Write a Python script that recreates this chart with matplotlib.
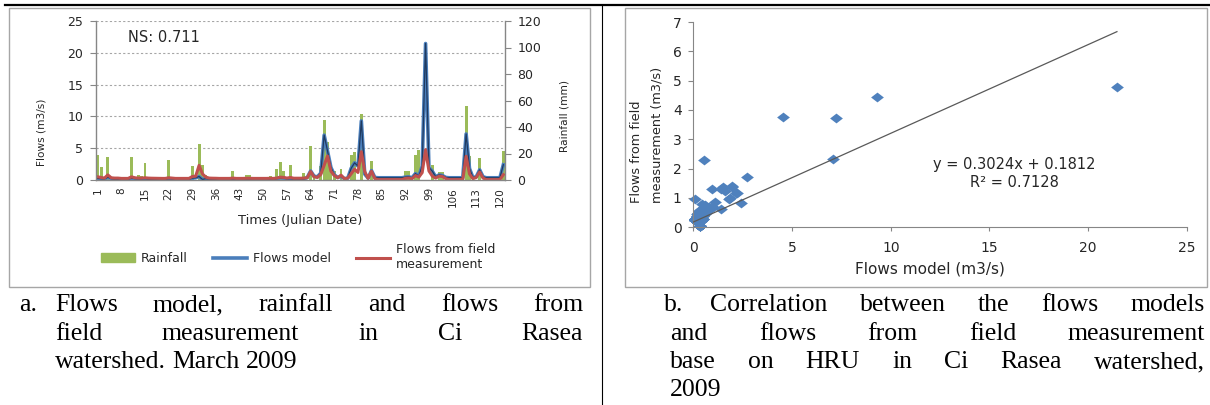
import matplotlib
matplotlib.use("Agg")
import matplotlib.pyplot as plt
from matplotlib.lines import Line2D
from matplotlib.patches import Patch, Rectangle
import numpy as np

# ---- data ----
days = list(range(1, 122))

rainfall = [
    19, 10, 0, 17, 0, 0, 2.5, 0, 0, 0,            # 1-10
    17, 0, 3.5, 3, 12.5, 0, 0, 0, 0, 0,           # 11-20
    0, 15, 2.5, 0, 0, 0, 0, 0, 10.5, 0,           # 21-30
    27, 11.5, 3.5, 0, 0, 1.5, 0, 2, 2.5, 0,       # 31-40
    7, 0, 0, 0, 3.5, 3.5, 0, 1.5, 1.5, 0,         # 41-50
    2.5, 3, 0, 8, 13.5, 7, 0, 11.5, 0, 1.5,       # 51-60
    1.5, 5, 0, 25.5, 4.5, 0, 10.5, 45, 29, 10,    # 61-70
    7, 0, 8.5, 0, 0, 18.5, 21, 0, 50, 0,          # 71-80
    0, 14, 0, 0, 0, 0, 0, 0, 0, 0,                # 81-90
    0, 7, 7, 0, 18.5, 22.5, 0, 0, 0, 11.5,        # 91-100
    0, 6, 6, 0, 0, 0, 0, 0, 0, 56,                # 101-110
    18, 0, 0, 16.5, 0, 0, 0, 0, 0, 0,             # 111-120
    22,                                           # 121
]

flows_model = [
    0.25, 0.2, 0.15, 0.45, 0.2, 0.12, 0.12, 0.12, 0.1, 0.1,
    0.3, 0.2, 0.15, 0.15, 0.2, 0.12, 0.1, 0.1, 0.1, 0.1,
    0.1, 0.2, 0.15, 0.1, 0.1, 0.1, 0.1, 0.1, 0.3, 0.35,
    0.55, 0.08, 0.2, 0.12, 0.1, 0.1, 0.1, 0.1, 0.1, 0.1,
    0.15, 0.1, 0.1, 0.1, 0.12, 0.12, 0.1, 0.1, 0.1, 0.1,
    0.1, 0.12, 0.1, 0.2, 0.35, 0.3, 0.15, 0.2, 0.12, 0.12,
    0.12, 0.15, 0.4, 1.42, 0.6, 0.5, 1.09, 7.06, 4.54, 1.97,
    0.8, 0.4, 0.59, 0.2, 0.3, 1.85, 2.7, 2.19, 9.29, 0.93,
    0.3, 1.48, 0.4, 0.35, 0.35, 0.35, 0.35, 0.35, 0.35, 0.35,
    0.35, 0.45, 0.5, 0.35, 1.0, 0.6, 2.17, 21.46, 1.94, 1.38,
    0.5, 0.8, 0.7, 0.4, 0.35, 0.35, 0.35, 0.35, 0.35, 7.24,
    1.8, 0.4, 0.5, 1.6, 0.5, 0.35, 0.35, 0.35, 0.35, 0.35,
    2.4,
]

flows_field = [
    0.5, 0.4, 0.3, 0.8, 0.35, 0.3, 0.3, 0.25, 0.25, 0.25,
    0.5, 0.35, 0.3, 0.3, 0.35, 0.3, 0.28, 0.27, 0.26, 0.25,
    0.25, 0.35, 0.3, 0.25, 0.25, 0.25, 0.25, 0.25, 0.55, 0.6,
    2.3, 0.95, 0.45, 0.3, 0.28, 0.27, 0.25, 0.25, 0.25, 0.25,
    0.3, 0.25, 0.25, 0.25, 0.27, 0.27, 0.25, 0.25, 0.25, 0.25,
    0.25, 0.27, 0.25, 0.3, 0.45, 0.4, 0.3, 0.4, 0.28, 0.28,
    0.28, 0.3, 0.35, 1.32, 0.5, 0.4, 0.87, 2.32, 3.77, 1.39,
    0.7, 0.35, 0.76, 0.2, 0.3, 0.99, 1.7, 1.18, 4.45, 1.32,
    0.25, 1.38, 0.2, 0.06, 0.06, 0.06, 0.06, 0.06, 0.06, 0.06,
    0.06, 0.25, 0.3, 0.2, 0.7, 0.45, 1.16, 4.77, 1.42, 0.61,
    0.3, 0.6, 0.55, 0.2, 0.06, 0.06, 0.06, 0.06, 0.06, 3.73,
    0.95, 0.2, 0.4, 1.25, 0.3, 0.06, 0.06, 0.06, 0.06, 0.06,
    0.84,
]

ns_value = 0.711
trend_slope = 0.3024
trend_intercept = 0.1812
r_squared = 0.7128

flow_ticks = [0, 5, 10, 15, 20, 25]
rain_ticks = [0, 20, 40, 60, 80, 100, 120]
day_ticks = days[::7]
scatter_xticks = [0, 5, 10, 15, 20, 25]
scatter_yticks = [0, 1, 2, 3, 4, 5, 6, 7]

GREEN = "#9BBB59"
BLUE = "#4A7EBB"
NAVY = "#1F3A60"
RED = "#C0504D"
TXT = "#262626"
AXC = "#868686"

W, H = 1210, 405
fig = plt.figure(figsize=(W / 100, H / 100), dpi=100)


def fx(px):
    return px / W


def fy(py):
    return 1 - py / H


# page decorations: top rule, separator, chart frames
fig.add_artist(Line2D([fx(5), 1], [fy(5), fy(5)], color="black", lw=1.6))
fig.add_artist(Line2D([fx(601.5), fx(601.5)], [fy(5), 0], color="black", lw=0.8))
for x0, x1 in [(9, 590), (625, 1207)]:
    fig.add_artist(Rectangle((fx(x0), fy(287)), fx(x1) - fx(x0), fy(8) - fy(287),
                             transform=fig.transFigure, fill=False,
                             ec="#A6A6A6", lw=1))

# ---- panel a: rainfall + flows ----
ax = fig.add_axes([fx(96), fy(180), (505 - 96) / W, (180 - 21) / H])
ax2 = ax.twinx()
ax.set_zorder(ax2.get_zorder() + 1)
ax.patch.set_visible(False)

for v in flow_ticks[1:]:
    ax2.axhline(v * rain_ticks[-1] / flow_ticks[-1], color="#A6A6A6",
                lw=0.8, ls=(0, (2, 2)), zorder=0)
ax2.bar(days, rainfall, width=0.85, color=GREEN, zorder=2)
ax2.set_ylim(0, 120)
ax2.set_yticks(rain_ticks)

ax.plot(days, flows_model, color=BLUE, lw=2.6, solid_joinstyle="round")
ax.plot(days, flows_model, color=NAVY, lw=0.9)
ax.plot(days, flows_field, color=RED, lw=2.2, solid_joinstyle="round")
ax.set_xlim(0.5, 121.5)
ax.set_ylim(0, 25)
ax.set_yticks(flow_ticks)
ax.set_xticks(day_ticks)
ax.set_xticklabels([str(d) for d in day_ticks], rotation=90)

for a in (ax, ax2):
    for s in a.spines.values():
        s.set_visible(False)
ax.spines["left"].set_visible(True)
ax.spines["bottom"].set_visible(True)
ax2.spines["right"].set_visible(True)
for s in (ax.spines["left"], ax.spines["bottom"], ax2.spines["right"]):
    s.set_color(AXC)
    s.set_linewidth(1)

ax.tick_params(axis="y", length=4, pad=5, color=AXC, labelsize=9, labelcolor=TXT)
ax.tick_params(axis="x", length=0, pad=5, labelsize=7.5, labelcolor=TXT)
ax2.tick_params(axis="y", length=4, pad=5, color=AXC, labelsize=9, labelcolor=TXT)

ax.set_xlabel("Times (Julian Date)", fontsize=9.4, color=TXT, labelpad=5)
ax.set_ylabel("Flows (m3/s)", fontsize=7.6, color=TXT)
ax.yaxis.set_label_coords((47 - 96) / 409, 0.30)
ax2.set_ylabel("Rainfall (mm)", fontsize=7.6, color=TXT)
ax2.yaxis.set_label_coords((560 - 96) / 409, 0.40)
ax.text((128 - 96) / 409, (180 - 37) / 159, f"NS: {ns_value}", transform=ax.transAxes,
        fontsize=10.5, color=TXT, va="center", ha="left")

handles = [Patch(color=GREEN), Line2D([], [], color=BLUE, lw=2.6),
           Line2D([], [], color=RED, lw=2.2)]
labels = ["Rainfall", "Flows model", "Flows from field\nmeasurement"]
fig.legend(handles, labels, loc="center", bbox_to_anchor=(fx(298), fy(257)),
           ncol=3, frameon=False, fontsize=9, labelcolor=TXT, handlelength=2.7,
           handletextpad=0.5, columnspacing=2.0)

# ---- panel b: scatter ----
bx = fig.add_axes([fx(693.4), fy(227.3), (1186.8 - 693.4) / W, (227.3 - 22) / H])
diamond = [(-1.3, 0), (0, 1), (1.3, 0), (0, -1), (-1.3, 0)]
bx.plot(flows_model, flows_field, ls="none", marker=diamond, ms=9.2,
        color="#4F81BD", mec="none", clip_on=False, zorder=2)
xs = np.array([0, max(flows_model)])
bx.plot(xs, trend_slope * xs + trend_intercept, color="#595959", lw=0.9, zorder=3)
bx.set_xlim(0, 25)
bx.set_ylim(0, 7)
bx.set_xticks(scatter_xticks)
bx.set_yticks(scatter_yticks)
for k in ("top", "right"):
    bx.spines[k].set_visible(False)
for k in ("left", "bottom"):
    bx.spines[k].set_color(AXC)
bx.tick_params(axis="x", length=3, pad=7, color=AXC, labelsize=10, labelcolor=TXT)
bx.tick_params(axis="y", length=3.5, pad=5, color=AXC, labelsize=10, labelcolor=TXT)
bx.text((1014 - 693.4) / 493.4, 0.262,
        f"y = {trend_slope}x + {trend_intercept}\nR\u00b2 = {r_squared}",
        transform=bx.transAxes, ha="center", va="center", multialignment="center",
        fontsize=10.5, color=TXT, linespacing=1.3)
fig.text(fx(930), fy(269), "Flows model (m3/s)", ha="center", va="center",
         fontsize=11, color=TXT)
fig.text(fx(647), fy(203), "Flows from field\nmeasurement (m3/s)", rotation=90,
         ha="center", va="bottom", multialignment="left", fontsize=9.3, color=TXT,
         linespacing=1.7)

# ---- captions (justified like the source document) ----
CAP = dict(fontsize=18.5, family="Liberation Serif", color="black", va="baseline", ha="left")
renderer = fig.canvas.get_renderer()


def caption_line(words, x0, x1, y, justify=True):
    texts = [fig.text(0, fy(y), w, **CAP) for w in words]
    widths = [t.get_window_extent(renderer).width for t in texts]
    if justify and len(words) > 1:
        gap = (x1 - x0 - sum(widths)) / (len(words) - 1)
    else:
        gap = CAP["fontsize"] * 0.25 * 100 / 72
    x = x0
    for t, w in zip(texts, widths):
        t.set_x(fx(x))
        x += w + gap


fig.text(fx(19), fy(311), "a.", **CAP)
caption_line(["Flows", "model,", "rainfall", "and", "flows", "from"], 55, 583, 311)
caption_line(["field", "measurement", "in", "Ci", "Rasea"], 55, 583, 340)
caption_line(["watershed.", "March", "2009"], 55, 583, 368, justify=False)

fig.text(fx(664), fy(311), "b.", **CAP)
caption_line(["Correlation", "between", "the", "flows", "models"], 710, 1205, 311)
caption_line(["and", "flows", "from", "field", "measurement"], 670, 1205, 340)
caption_line(["base", "on", "HRU", "in", "Ci", "Rasea", "watershed,"], 670, 1205, 368)
caption_line(["2009"], 670, 1205, 396, justify=False)

fig.savefig("out.png", dpi=100)
